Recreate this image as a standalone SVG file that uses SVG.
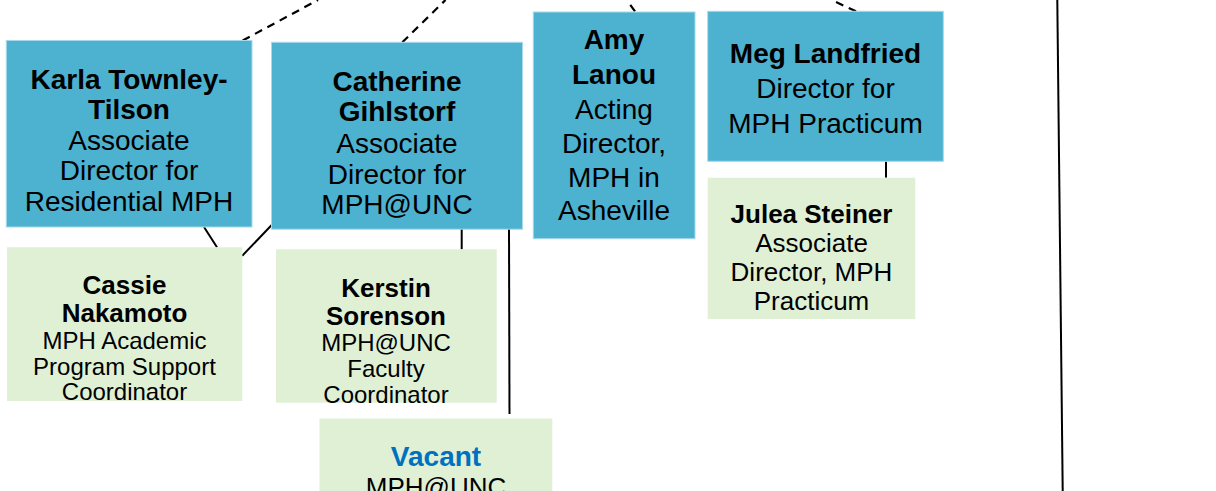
<svg xmlns="http://www.w3.org/2000/svg" width="1216" height="491" viewBox="0 0 1216 491">
<style>
.blue{fill:#4DB1D0;stroke:#A6D9EA;stroke-width:1}
.green{fill:#DFF0D5;stroke:none}
.t{font-family:"Liberation Sans",Arial,sans-serif;text-anchor:middle;fill:#000}
.b28{font-size:28px;font-weight:bold}
.r28{font-size:28px}
.b26{font-size:26px;font-weight:bold}
.r26{font-size:26px}
.r24{font-size:24px}
.vac{fill:#0070C0}
.solid{stroke:#000;stroke-width:2;fill:none}
.dash{stroke:#000;stroke-width:2.2;fill:none;stroke-dasharray:8 6}
</style>
<rect width="1216" height="491" fill="#fff"/>
<g id="connectors">
<line class="dash" x1="242.7" y1="40.5" x2="318" y2="0"/>
<line class="dash" x1="402.3" y1="42.3" x2="445.5" y2="0"/>
<line class="dash" x1="635" y1="11.3" x2="626.7" y2="0"/>
<line class="dash" x1="856" y1="11.3" x2="831.7" y2="0"/>
<line class="solid" x1="204" y1="227" x2="217" y2="247.3"/>
<line class="solid" x1="271.7" y1="225" x2="242.3" y2="255.7"/>
<line class="solid" x1="461.7" y1="229" x2="461.7" y2="249.3"/>
<line class="solid" x1="509" y1="229" x2="509.5" y2="414"/>
<line class="solid" x1="886" y1="161.3" x2="886" y2="177.7"/>
<line class="solid" x1="1057.3" y1="0" x2="1062.7" y2="491"/>
</g>
<g id="karla">
<rect class="blue" x="6.3" y="40.5" width="245.7" height="186.5"/>
<text class="t b28" x="129" y="88.7">Karla Townley-</text>
<text class="t b28" x="129" y="119.3">Tilson</text>
<text class="t r28" x="129" y="150">Associate</text>
<text class="t r28" x="129" y="180.3">Director for</text>
<text class="t r28" x="129" y="211.3">Residential MPH</text>
</g>
<g id="catherine">
<rect class="blue" x="271.5" y="42.3" width="251" height="186.9"/>
<text class="t b28" x="397" y="90.7">Catherine</text>
<text class="t b28" x="397" y="121">Gihlstorf</text>
<text class="t r28" x="397" y="152.7">Associate</text>
<text class="t r28" x="397" y="184">Director for</text>
<text class="t r28" x="397" y="214.3">MPH@UNC</text>
</g>
<g id="amy">
<rect class="blue" x="533.3" y="12" width="161.7" height="226.7"/>
<text class="t b28" x="614" y="49.3">Amy</text>
<text class="t b28" x="614" y="84.3">Lanou</text>
<text class="t r28" x="614" y="118.7">Acting</text>
<text class="t r28" x="614" y="152.7">Director,</text>
<text class="t r28" x="614" y="186.7">MPH in</text>
<text class="t r28" x="614" y="220">Asheville</text>
</g>
<g id="meg">
<rect class="blue" x="707.7" y="11.3" width="235.6" height="150"/>
<text class="t b28" x="825.5" y="63.3">Meg Landfried</text>
<text class="t r28" x="825.5" y="98.3">Director for</text>
<text class="t r28" x="825.5" y="133.3">MPH Practicum</text>
</g>
<g id="julea">
<rect class="green" x="707.7" y="177.7" width="207.6" height="141.3"/>
<text class="t b26" x="811.5" y="222.7">Julea Steiner</text>
<text class="t r26" x="811.5" y="251.7">Associate</text>
<text class="t r26" x="811.5" y="281">Director, MPH</text>
<text class="t r26" x="811.5" y="310">Practicum</text>
</g>
<g id="cassie">
<rect class="green" x="7" y="247.3" width="235.3" height="153.7"/>
<text class="t b26" x="124.5" y="294">Cassie</text>
<text class="t b26" x="124.5" y="322.3">Nakamoto</text>
<text class="t r24" x="124.5" y="348.7">MPH Academic</text>
<text class="t r24" x="124.5" y="374.7">Program Support</text>
<text class="t r24" x="124.5" y="400">Coordinator</text>
</g>
<g id="kerstin">
<rect class="green" x="276" y="249.3" width="220.7" height="153.4"/>
<text class="t b26" x="386" y="296.7">Kerstin</text>
<text class="t b26" x="386" y="325">Sorenson</text>
<text class="t r24" x="386" y="351">MPH@UNC</text>
<text class="t r24" x="386" y="377.3">Faculty</text>
<text class="t r24" x="386" y="402.7">Coordinator</text>
</g>
<g id="vacant">
<rect class="green" x="319.5" y="418.5" width="232.8" height="80"/>
<text class="t b28 vac" x="436" y="466">Vacant</text>
<text class="t r26" x="436" y="496">MPH@UNC</text>
</g>
</svg>
